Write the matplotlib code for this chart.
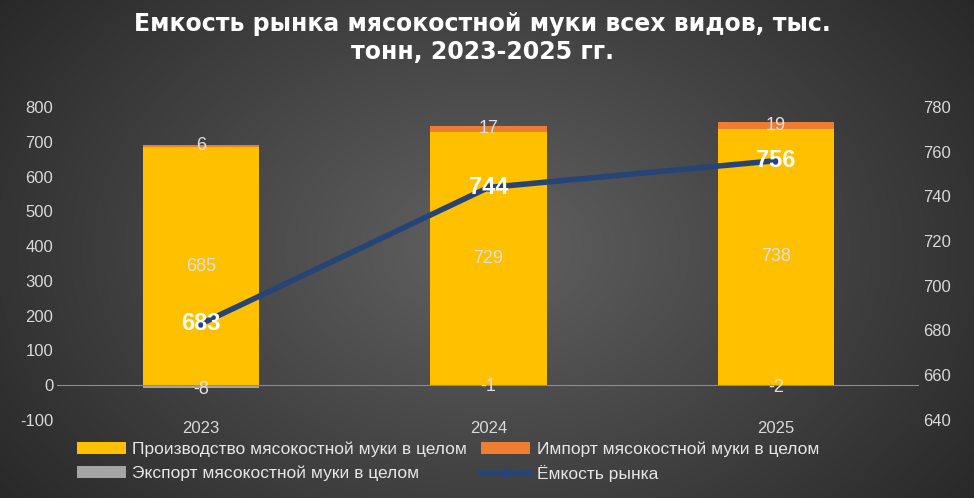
import numpy as np
import matplotlib
matplotlib.use("Agg")
import matplotlib.pyplot as plt

plt.rcParams['font.family'] = ['Liberation Sans', 'DejaVu Sans']
plt.rcParams['axes.unicode_minus'] = False

years = ["2023", "2024", "2025"]
production = [685, 729, 738]
imports = [6, 17, 19]
exports = [-8, -1, -2]
capacity = [683, 744, 756]

fig = plt.figure(figsize=(9.74, 4.98), dpi=100)
bg = fig.add_axes([0, 0, 1, 1], zorder=-10)
yy, xx = np.mgrid[0:498, 0:974]
r = np.sqrt(((xx - 487) / 600) ** 2 + ((yy - 249) / 420) ** 2)
g = np.clip(0.38 - 0.22 * r, 0.12, 0.4)
bg.imshow(np.dstack([g, g, g]), aspect="auto", extent=[0, 1, 0, 1])
bg.axis("off")

ax = fig.add_axes([0.059, 0.157, 0.885, 0.628])
ax.set_facecolor("none")
x = np.arange(len(years))
w = 0.405
bp = ax.bar(x, production, w, color="#FFC000", label="Производство мясокостной муки в целом")
bi = ax.bar(x, imports, w, bottom=production, color="#ED7D31", label="Импорт мясокостной муки в целом")
be = ax.bar(x, exports, w, color="#A5A5A5", label="Экспорт мясокостной муки в целом")
ax.axhline(0, color="#8c8c8c", lw=0.8)
for i in x:
    ax.text(i, production[i] / 2, str(production[i]), ha="center", va="center", color="#e0e0e0", fontsize=13)
    ax.text(i, production[i] + imports[i] / 2, str(imports[i]), ha="center", va="center", color="#e0e0e0", fontsize=13)
    ax.text(i, exports[i] - 4, str(exports[i]), ha="center", va="center", color="#e0e0e0", fontsize=13)
ax.set_xlim(-0.5, 2.5)
ax.set_ylim(-100, 800)
ax.set_yticks(range(-100, 801, 100))
ax.set_xticks(x)
ax.set_xticklabels(years)
ax2 = ax.twinx()
ax2.set_ylim(640, 780)
ax2.set_yticks(range(640, 781, 20))
ln, = ax2.plot(x, capacity, color="#264478", lw=4, marker="o", ms=5, label="Ёмкость рынка")
for i in x:
    ax2.text(i, capacity[i], str(capacity[i]), ha="center", va="center", color="white", fontsize=17, fontweight="bold")
for a in (ax, ax2):
    for s in a.spines.values():
        s.set_visible(False)
    a.tick_params(colors="#d9d9d9", labelsize=12, length=0, pad=3)
ax.tick_params(axis="x", pad=1)

fig.legend([bp, be, bi, ln], [bp.get_label(), be.get_label(), bi.get_label(), ln.get_label()],
           loc="lower center", bbox_to_anchor=(0.46, 0.0), ncol=2, frameon=False,
           labelcolor="#e6e6e6", fontsize=12.5, handlelength=2.8, columnspacing=0.8, handletextpad=0.4)
fig.suptitle("Емкость рынка мясокостной муки всех видов, тыс.\nтонн, 2023-2025 гг.", color="white",
             fontsize=17, fontweight="bold", y=0.975, x=0.495, family="DejaVu Sans")
fig.savefig("out.png", dpi=100)
